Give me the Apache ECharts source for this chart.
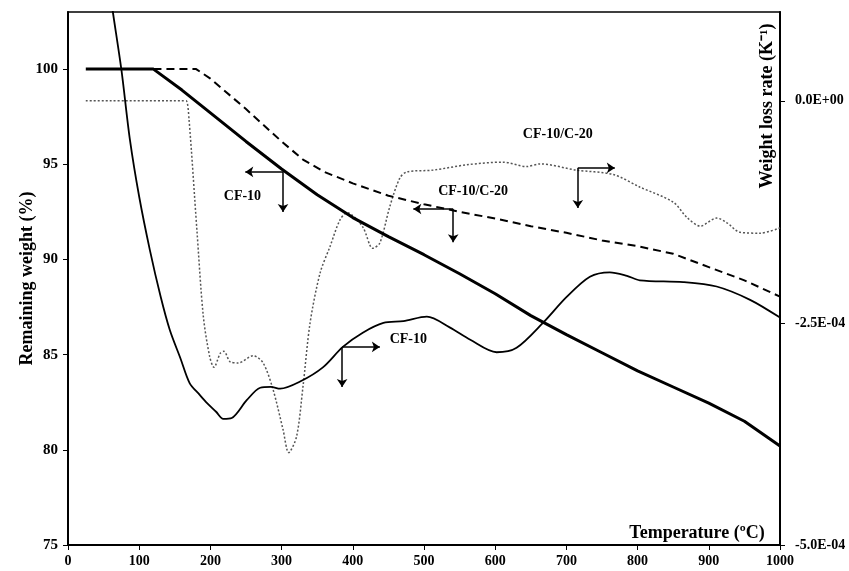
<!DOCTYPE html>
<html>
<head>
<meta charset="utf-8">
<script src="https://cdn.jsdelivr.net/npm/echarts@6/dist/echarts.min.js"></script>
<style>
  html, body { margin: 0; padding: 0; background: #fff; }
  #chart { width: 849px; height: 571px; }
</style>
</head>
<body>
<div id="chart"></div>
<script>
// TG curves, remaining weight (%)
var tgCf10Temp = [25,120,160,200,250,300,350,400,450,500,550,600,650,700,750,800,850,900,950,1000];
var tgCf10 = [100,100,98.9,97.7,96.2,94.75,93.4,92.2,91.2,90.25,89.25,88.2,87.05,86.05,85.1,84.15,83.3,82.45,81.5,80.2];

var tgC20Temp = [120,180,200,250,300,330,360,400,450,500,550,600,650,700,750,800,850,900,950,1000];
var tgC20 = [100,100,99.5,97.9,96.2,95.25,94.6,94.0,93.35,92.9,92.5,92.15,91.75,91.4,91.0,90.7,90.3,89.6,88.9,88.05];

// DTG curves, weight loss rate in units of 1E-04 K^-1
var dtgCf10Temp = [40,55,63,75,87,100,115,130,143,158,171,185,195,208,218,230,251,270,285,298,326,358,386,414,443,471,504,536,565,602,630,667,700,733,761,785,803,864,911,958,1000];
var dtgCf10 = [2.3,1.45,1.0,0.35,-0.44,-1.08,-1.68,-2.2,-2.58,-2.9,-3.18,-3.31,-3.40,-3.5,-3.58,-3.57,-3.37,-3.23,-3.22,-3.24,-3.16,-3.0,-2.77,-2.61,-2.50,-2.48,-2.43,-2.55,-2.69,-2.83,-2.78,-2.50,-2.21,-1.98,-1.93,-1.97,-2.02,-2.04,-2.09,-2.24,-2.44];

var dtgC20Temp = [25,160,166,170,181,190,199,205,214,219,228,239,260,274,288,302,310,321,330,340,354,368,382,392,414,428,438,452,466,476,513,560,611,644,663,714,766,803,850,869,888,911,925,944,972,1000];
var dtgC20 = [0,0,0,-0.21,-1.45,-2.42,-2.88,-3.0,-2.84,-2.82,-2.94,-2.95,-2.87,-2.95,-3.25,-3.70,-3.96,-3.78,-3.22,-2.50,-1.94,-1.64,-1.34,-1.26,-1.42,-1.66,-1.60,-1.19,-0.87,-0.80,-0.78,-0.72,-0.69,-0.74,-0.71,-0.78,-0.83,-0.97,-1.14,-1.31,-1.41,-1.32,-1.37,-1.48,-1.49,-1.43];

// axis ranges: [min, max, interval]
var tempTicks = [0, 1000, 100];
var weightTicks = [75, 103, 5];
var rateTicks = [-5, 1, 2.5];

function zip(xs, ys) {
    var out = [];
    for (var i = 0; i < xs.length; i++) out.push([xs[i], ys[i]]);
    return out;
}

function fmtE(v) {
    var x = v * 1e-4;
    if (Math.abs(x) < 1e-12) return '0.0E+00';
    var p = x.toExponential(1).split('e');
    var ex = parseInt(p[1], 10);
    var e = Math.abs(ex);
    return p[0] + 'E' + (ex < 0 ? '-' : '+') + (e < 10 ? '0' : '') + e;
}

var serif = '"Liberation Serif", "Times New Roman", serif';
var labelFont = { color: '#000', fontFamily: serif, fontWeight: 'bold', fontSize: 14 };

var arrowLine = {
    silent: true,
    animation: false,
    symbol: ['none', 'arrow'],
    symbolSize: 8,
    lineStyle: { color: '#000', width: 1.5, type: 'solid' },
    label: { show: false },
    emphasis: { disabled: true }
};
function arrows(anchor, ends) {
    var m = JSON.parse(JSON.stringify(arrowLine));
    m.data = ends.map(function (e) { return [{ coord: anchor }, { coord: e }]; });
    return m;
}
function tag(pos, text) {
    return {
        silent: true,
        animation: false,
        symbol: 'circle',
        symbolSize: 0,
        label: { show: true, position: 'inside', formatter: function (p) { return p.name; },
                 color: '#000', fontFamily: serif, fontWeight: 'bold', fontSize: 14 },
        data: [{ name: text, coord: pos }]
    };
}

var chart = echarts.init(document.getElementById('chart'));
chart.setOption({
    animation: false,
    backgroundColor: '#fff',
    grid: { left: 68, right: 69, top: 12, bottom: 26, show: true, borderColor: '#000', borderWidth: 1.5 },
    xAxis: {
        type: 'value',
        min: tempTicks[0], max: tempTicks[1], interval: tempTicks[2],
        axisLine: { onZero: false, lineStyle: { color: '#000', width: 2 } },
        axisTick: { length: 5, lineStyle: { color: '#000' } },
        axisLabel: Object.assign({ margin: 9, formatter: function (v) { return String(v); } }, labelFont),
        splitLine: { show: false }
    },
    yAxis: [
        {
            type: 'value',
            min: weightTicks[0], max: weightTicks[1], interval: weightTicks[2],
            name: 'Remaining weight (%)',
            nameLocation: 'middle',
            nameRotate: 90,
            nameGap: 32,
            nameMoveOverlap: false,
            nameTextStyle: { color: '#000', fontFamily: serif, fontWeight: 'bold', fontSize: 18 },
            axisLine: { show: true, onZero: false, lineStyle: { color: '#000', width: 2 } },
            axisTick: { show: true, length: 5, lineStyle: { color: '#000' } },
            axisLabel: Object.assign({ margin: 10, showMaxLabel: false }, labelFont, { fontSize: 15 }),
            splitLine: { show: false }
        },
        {
            type: 'value',
            position: 'right',
            min: rateTicks[0], max: rateTicks[1], interval: rateTicks[2],
            axisLine: { show: true, onZero: false, lineStyle: { color: '#000', width: 2 } },
            axisTick: { show: true, length: 5, lineStyle: { color: '#000' } },
            axisLabel: Object.assign({ margin: 15, showMaxLabel: false, formatter: fmtE }, labelFont),
            splitLine: { show: false }
        }
    ],
    graphic: [
        {
            type: 'text', x: 767, y: 106, rotation: Math.PI / 2,
            style: { text: 'Weight loss rate (K\u207B\u00B9)', fill: '#000',
                     font: 'bold 18px ' + serif, align: 'center', verticalAlign: 'middle' }
        },
        {
            type: 'text', x: 697, y: 533,
            style: { text: 'Temperature (\u00BAC)', fill: '#000',
                     font: 'bold 18px ' + serif, align: 'center', verticalAlign: 'middle' }
        }
    ],
    series: [
        {
            name: 'CF-10/C-20 DTG', type: 'line', yAxisIndex: 1, symbol: 'none', smooth: 0.3,
            lineStyle: { color: '#555', width: 1.5, type: [2, 2] },
            data: zip(dtgC20Temp, dtgC20),
            markLine: arrows([716, -0.755], [[768, -0.755], [716, -1.205]]),
            markPoint: tag([688, -0.38], 'CF-10/C-20')
        },
        {
            name: 'CF-10 DTG', type: 'line', yAxisIndex: 1, symbol: 'none', smooth: 0.3,
            lineStyle: { color: '#000', width: 1.8 },
            data: zip(dtgCf10Temp, dtgCf10),
            markLine: arrows([385, -2.77], [[438, -2.77], [385, -3.22]]),
            markPoint: tag([478, -2.68], 'CF-10')
        },
        {
            name: 'CF-10/C-20 TG', type: 'line', yAxisIndex: 0, symbol: 'none',
            lineStyle: { color: '#000', width: 2, type: [8, 5] },
            data: zip(tgC20Temp, tgC20),
            markLine: arrows([541, 92.65], [[485, 92.65], [541, 90.9]]),
            markPoint: tag([569, 93.55], 'CF-10/C-20')
        },
        {
            name: 'CF-10 TG', type: 'line', yAxisIndex: 0, symbol: 'none',
            lineStyle: { color: '#000', width: 3 },
            data: zip(tgCf10Temp, tgCf10),
            markLine: arrows([302, 94.6], [[249, 94.6], [302, 92.5]]),
            markPoint: tag([245, 93.3], 'CF-10')
        }
    ]
});
</script>
</body>
</html>
